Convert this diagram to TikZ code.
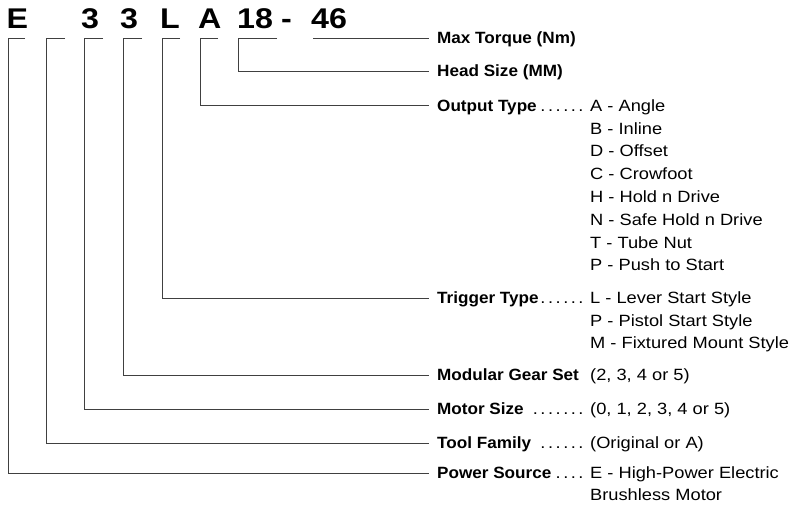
\documentclass[tikz,border=0pt]{standalone}
\usepackage{fontspec}
\setmainfont{Liberation Sans}
\newfontfamily\codefont{Liberation Sans}[FakeStretch=1.13]
\newfontfamily\lblfont{Liberation Sans}[FakeStretch=1.05]
\newfontfamily\optfont{Liberation Sans}[FakeStretch=1.12]
\newcommand\leaderdots[1]{\foreach \k in {1,...,#1}{\hbox to 7.6pt{\hss.\hss}}}

\tikzset{
  conn/.style={draw=black!75, line width=0.8pt},
  code/.style={font=\codefont\bfseries\fontsize{28.5}{30}\selectfont, anchor=base west, inner sep=0pt},
  lbl/.style={font=\lblfont\bfseries\fontsize{16.3}{19}\selectfont, anchor=west, inner sep=0pt, text height=11.5pt, text depth=0pt},
  opt/.style={font=\optfont\fontsize{16.3}{19}\selectfont, anchor=west, inner sep=0pt, text height=11.5pt, text depth=0pt},
  dotrow/.style={font=\optfont\fontsize{16.3}{19}\selectfont, anchor=east, inner sep=0pt, text height=11.5pt, text depth=0pt},
}

\begin{document}
\begin{tikzpicture}[x=1pt, y=-1pt]
  \useasboundingbox (0,0) rectangle (791,506);

  % model code
  \node[code] (cE) at (6.5,28) {E};
  \coordinate (cFam) at (46,28);
  \node[code] (c3a) at (81,28) {3};
  \node[code] (c3b) at (120,28) {3};
  \node[code] (cL) at (160,28) {L};
  \node[code] (cA) at (198,28) {A};
  \node[code] (c18) at (237,28) {18};
  \node[code] (cdash) at (281,28) {-};
  \node[code] (c46) at (311,28) {46};

  % labels
  \node[lbl] (maxlbl) at (437,38) {Max Torque (Nm)};
  \node[lbl] (headlbl) at (437,71) {Head Size (MM)};
  \node[lbl] (outlbl) at (437,105.5) {Output Type};
  \node[lbl] (triglbl) at (437,298) {Trigger Type};
  \node[lbl] (gearlbl) at (437,375) {Modular Gear Set};
  \node[lbl] (motorlbl) at (437,409) {Motor Size};
  \node[lbl] (famlbl) at (437,443) {Tool Family};
  \node[lbl] (powlbl) at (437,473) {Power Source};

  % leader dots
  \node[dotrow] (outdots) at (585,105.5) {\leaderdots{6}};
  \node[dotrow] (trigdots) at (585,298) {\leaderdots{6}};
  \node[dotrow] (motordots) at (585,409) {\leaderdots{7}};
  \node[dotrow] (famdots) at (585,443) {\leaderdots{6}};
  \node[dotrow] (powdots) at (585,473) {\leaderdots{4}};

  % options
  \foreach \txt [count=\i] in {A - Angle, B - Inline, D - Offset, C - Crowfoot,
      H - Hold n Drive, N - Safe Hold n Drive, T - Tube Nut, P - Push to Start}
    \node[opt] (outopt\i) at (590,{105.5+22.8*(\i-1)}) {\txt};
  \foreach \txt [count=\i] in {L - Lever Start Style, P - Pistol Start Style,
      M - Fixtured Mount Style}
    \node[opt] (trigopt\i) at (590,{298+22.5*(\i-1)}) {\txt};
  \node[opt] (gearopt) at (590,375) {(2, 3, 4 or 5)};
  \node[opt] (motoropt) at (590,409) {(0, 1, 2, 3, 4 or 5)};
  \node[opt] (famopt) at (590,443) {(Original or A)};
  \node[opt] (powopt1) at (590,473) {E - High-Power Electric};
  \node[opt] (powopt2) at (590,495) {Brushless Motor};

  % connectors
  \draw[conn] ([xshift=2pt,yshift=-10pt]c46.base west) -- ([xshift=-8pt]maxlbl.west);
  \draw[conn] ([xshift=40pt,yshift=-10pt]c18.base west) -- ([xshift=1pt,yshift=-10pt]c18.base west) |- ([xshift=-8pt]headlbl.west);
  \draw[conn] ([xshift=20pt,yshift=-10pt]cA.base west) -- ([xshift=2pt,yshift=-10pt]cA.base west) |- ([xshift=-8pt]outlbl.west);
  \draw[conn] ([xshift=20pt,yshift=-10pt]cL.base west) -- ([xshift=2pt,yshift=-10pt]cL.base west) |- ([xshift=-8pt]triglbl.west);
  \draw[conn] ([xshift=22pt,yshift=-10pt]c3b.base west) -- ([xshift=3pt,yshift=-10pt]c3b.base west) |- ([xshift=-8pt]gearlbl.west);
  \draw[conn] ([xshift=22pt,yshift=-10pt]c3a.base west) -- ([xshift=3pt,yshift=-10pt]c3a.base west) |- ([xshift=-8pt]motorlbl.west);
  \draw[conn] ([xshift=19pt,yshift=-10pt]cFam) -- ([yshift=-10pt]cFam) |- ([xshift=-8pt]famlbl.west);
  \draw[conn] ([xshift=18.5pt,yshift=-10pt]cE.base west) -- ([xshift=1.5pt,yshift=-10pt]cE.base west) |- ([xshift=-8pt]powlbl.west);
\end{tikzpicture}
\end{document}
